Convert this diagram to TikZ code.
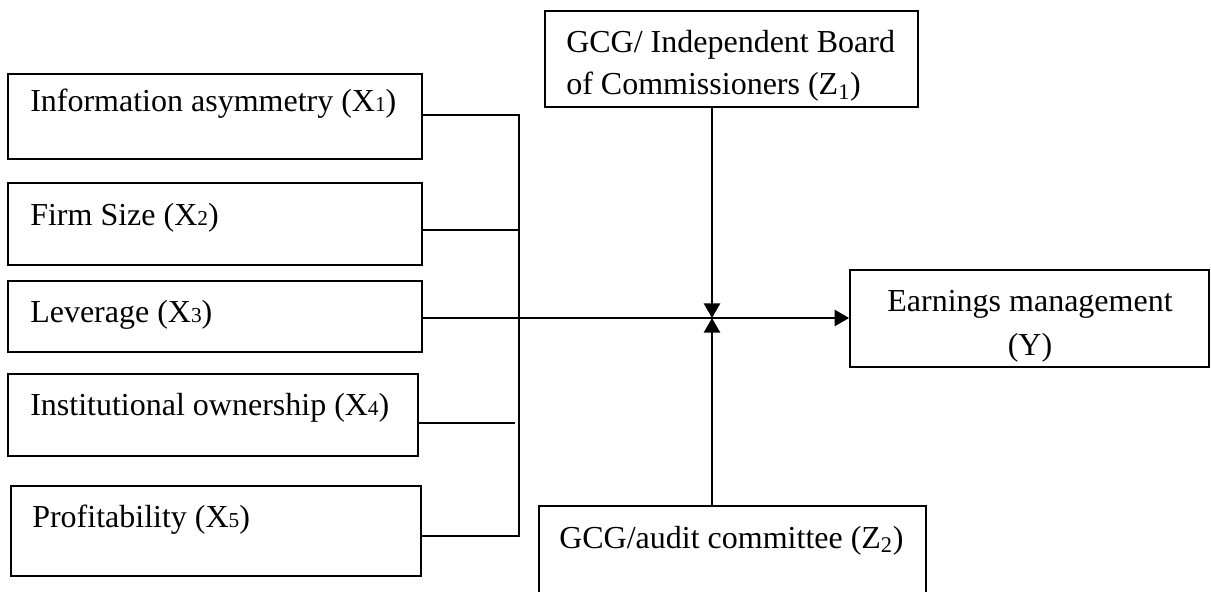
\documentclass[tikz,border=0pt]{standalone}
\usepackage{fontspec}
\setmainfont{Liberation Serif}
\usetikzlibrary{fit,arrows.meta}
\newcommand\smallsub[1]{{\fontsize{16pt}{16pt}\selectfont #1}}
\begin{document}
\begin{tikzpicture}[x=0.75pt,y=-0.75pt,
  box/.style={draw, line width=1.2pt, inner sep=0pt},
  lbl/.style={anchor=base west, inner sep=0pt, font=\fontsize{24pt}{28pt}\selectfont},
  clbl/.style={anchor=base, inner sep=0pt, font=\fontsize{24pt}{28pt}\selectfont},
  wire/.style={line width=1.3pt},
  flow/.style={line width=2.1pt, -{Triangle[length=11pt,width=12pt]}},
]
\useasboundingbox (0,0) rectangle (1211,592);
\clip (0,0) rectangle (1211,592);

% boxes
\node[box, fit={(8,74) (422,159)}] (x1) {};
\node[box, fit={(8,183) (422,265)}] (x2) {};
\node[box, fit={(8,281) (422,352)}] (x3) {};
\node[box, fit={(8,374) (418,456)}] (x4) {};
\node[box, fit={(11,486) (421,576)}] (x5) {};
\node[box, fit={(545,11) (918,107)}] (z1) {};
\node[box, fit={(539,506) (926,640)}] (z2) {};
\node[box, fit={(850,270) (1209,367)}] (y) {};

% texts
\node[lbl] (t1) at (30,112) {Information asymmetry (X\smallsub{1})};
\node[lbl] (t2) at (30,225) {Firm Size (X\smallsub{2})};
\node[lbl] (t3) at (30,322) {Leverage (X\smallsub{3})};
\node[lbl] (t4) at (30,415) {Institutional ownership (X\smallsub{4})};
\node[lbl] (t5) at (32,527) {Profitability (X\smallsub{5})};
\node[lbl] (tz1a) at (566,53) {GCG/ Independent Board};
\node[lbl] (tz1b) at (566,95) {of Commissioners (Z\textsubscript{1})};
\node[clbl] (tya) at (1030,311) {Earnings management};
\node[clbl] (tyb) at (1030,355) {(Y)};
\node[lbl] (tz2) at (559,548) {GCG/audit committee (Z\textsubscript{2})};

% bus coordinates
\coordinate (btop) at (519,115);
\coordinate (b2) at (519,230);
\coordinate (b3) at (519,318);
\coordinate (b4) at (515,423);
\coordinate (bbot) at (519,536);
\coordinate (hub) at (712,318);

% connectors
\draw[wire] (x1.east |- btop) -- (btop) -- (bbot) -- (x5.east |- bbot);
\draw[wire] (x2.east |- b2) -- (b2);
\draw[wire] (x3.east |- b3) -- (b3);
\draw[wire] (x4.east |- b4) -- (b4);
\draw[flow] (b3) -- (y.west |- b3);
\draw[flow] (z1.south -| hub) -- (hub);
\draw[flow] (z2.north -| hub) -- (hub);
\end{tikzpicture}
\end{document}
